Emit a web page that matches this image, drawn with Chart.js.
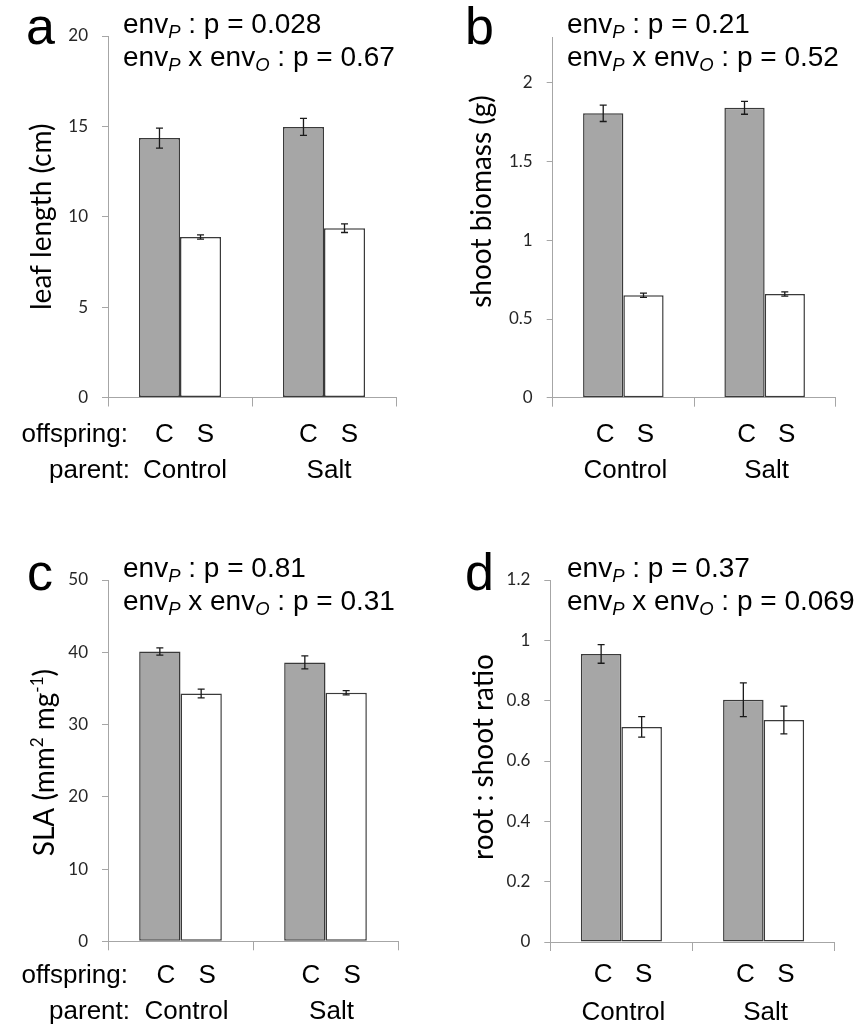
<!DOCTYPE html>
<html>
<head>
<meta charset="utf-8">
<script src="https://cdn.jsdelivr.net/npm/chart.js@4.4.1/dist/chart.umd.min.js"></script>
<style>
  html, body { margin: 0; padding: 0; background: #ffffff; }
  body { width: 865px; height: 1025px; position: relative; overflow: hidden; }
  canvas { position: absolute; }
  .ann { position: absolute; font-family: "Liberation Sans", Arial, sans-serif; font-size: 28px; line-height: 33px; color: #000; white-space: nowrap; }
  .ann sub { font-size: 0.66em; font-style: italic; vertical-align: -0.28em; line-height: 0; }
  .letter { position: absolute; font-family: "Liberation Sans", Arial, sans-serif; font-size: 52px; line-height: 52px; color: #000; }
</style>
</head>
<body>
<canvas id="pa" width="432" height="512" style="left:0;top:0"></canvas>
<canvas id="pb" width="433" height="512" style="left:432px;top:0"></canvas>
<canvas id="pc" width="432" height="513" style="left:0;top:512px"></canvas>
<canvas id="pd" width="433" height="513" style="left:432px;top:512px"></canvas>

<div class="letter" style="left:26px;top:0px">a</div>
<div class="letter" style="left:465px;top:0px">b</div>
<div class="letter" style="left:27px;top:546px">c</div>
<div class="letter" style="left:465px;top:546px">d</div>

<div class="ann" style="left:123px;top:7px">env<sub>P</sub> : p = 0.028<br>env<sub>P</sub> x env<sub>O</sub> : p = 0.67</div>
<div class="ann" style="left:567px;top:7px">env<sub>P</sub> : p = 0.21<br>env<sub>P</sub> x env<sub>O</sub> : p = 0.52</div>
<div class="ann" style="left:123px;top:551px">env<sub>P</sub> : p = 0.81<br>env<sub>P</sub> x env<sub>O</sub> : p = 0.31</div>
<div class="ann" style="left:567px;top:551px">env<sub>P</sub> : p = 0.37<br>env<sub>P</sub> x env<sub>O</sub> : p = 0.069</div>

<script>
// ---------------- data ----------------
const parentEnv = ['Control', 'Salt'];
const offspringEnv = ['C', 'S'];

const leafLengthC = [14.35, 14.97];
const leafLengthCErr = [0.55, 0.47];
const leafLengthS = [8.88, 9.37];
const leafLengthSErr = [0.12, 0.24];

const shootBiomassC = [1.807, 1.842];
const shootBiomassCErr = [0.052, 0.041];
const shootBiomassS = [0.651, 0.659];
const shootBiomassSErr = [0.014, 0.013];

const slaC = [40.1, 38.6];
const slaCErr = [0.5, 0.9];
const slaS = [34.3, 34.4];
const slaSErr = [0.6, 0.3];

const rootShootC = [0.955, 0.803];
const rootShootCErr = [0.031, 0.056];
const rootShootS = [0.713, 0.736];
const rootShootSErr = [0.034, 0.046];

// ---------------- plugins ----------------
const errorBarPlugin = {
  id: 'errbars',
  afterDatasetsDraw(chart) {
    const { ctx } = chart;
    const y = chart.scales.y;
    chart.data.datasets.forEach((ds, di) => {
      const meta = chart.getDatasetMeta(di);
      meta.data.forEach((bar, i) => {
        const v = ds.data[i], e = ds.errors[i];
        const t = y.getPixelForValue(v + e), b = y.getPixelForValue(v - e);
        const x = bar.x, w = 3.5;
        ctx.save();
        ctx.strokeStyle = '#1a1a1a';
        ctx.lineWidth = 1.3;
        ctx.beginPath();
        ctx.moveTo(x, t); ctx.lineTo(x, b);
        ctx.moveTo(x - w, t); ctx.lineTo(x + w, t);
        ctx.moveTo(x - w, b); ctx.lineTo(x + w, b);
        ctx.stroke();
        ctx.restore();
      });
    });
  }
};

const xLabelPlugin = {
  id: 'xlabels',
  afterDraw(chart, args, opts) {
    const { ctx, chartArea } = chart;
    const xs = chart.scales.x;
    ctx.save();
    ctx.font = '26px "Liberation Sans", Arial, sans-serif';
    ctx.fillStyle = '#000';
    ctx.textBaseline = 'alphabetic';
    ctx.textAlign = 'center';
    const row1 = chartArea.bottom + opts.row1;
    const row2 = chartArea.bottom + opts.row2;
    chart.data.datasets.forEach((ds, di) => {
      const meta = chart.getDatasetMeta(di);
      meta.data.forEach((bar) => {
        ctx.fillText(offspringEnv[di], bar.x + opts.dx, row1);
      });
    });
    chart.data.labels.forEach((lab, i) => {
      ctx.fillText(lab, xs.getPixelForValue(i) + opts.dx, row2);
    });
    if (opts.showNames) {
      ctx.textAlign = 'right';
      ctx.fillText('offspring:', opts.nameX, row1);
      ctx.fillText('parent:', opts.nameX + 2, row2);
    }
    ctx.restore();
  }
};

const yTitlePlugin = {
  id: 'ytitle',
  afterDraw(chart, args, opts) {
    const { ctx, chartArea } = chart;
    const cy = (chartArea.top + chartArea.bottom) / 2 + opts.dy;
    ctx.save();
    ctx.translate(opts.baseX, cy);
    ctx.rotate(-Math.PI / 2);
    ctx.font = opts.size + 'px Lato, sans-serif';
    ctx.fillStyle = '#000';
    ctx.textAlign = 'center';
    ctx.textBaseline = 'alphabetic';
    if (opts.sup) {
      // text with superscripts: draw piecewise, centred as a whole
      const parts = opts.sup;
      const small = Math.round(opts.size * 0.62);
      let total = 0;
      parts.forEach(p => {
        ctx.font = (p.s ? small : opts.size) + 'px Lato, sans-serif';
        p.w = ctx.measureText(p.t).width; total += p.w;
      });
      let x = -total / 2;
      ctx.textAlign = 'left';
      parts.forEach(p => {
        ctx.font = (p.s ? small : opts.size) + 'px Lato, sans-serif';
        ctx.fillText(p.t, x, p.s ? -opts.size * 0.38 : 0);
        x += p.w;
      });
    } else {
      ctx.fillText(opts.text, 0, 0);
    }
    ctx.restore();
  }
};

// ---------------- builder ----------------
function fmt(v) { return String(Number(v.toFixed(3))); }

function makePanel(id, o) {
  const axisGray = '#a6a6a6';
  new Chart(document.getElementById(id), {
    type: 'bar',
    data: {
      labels: parentEnv,
      datasets: [
        { label: 'C', data: o.c, errors: o.cErr, backgroundColor: '#a6a6a6', borderColor: '#3a3a3a', borderWidth: 1.5, borderSkipped: false, categoryPercentage: 0.57, barPercentage: 1.0 },
        { label: 'S', data: o.s, errors: o.sErr, backgroundColor: '#ffffff', borderColor: '#3a3a3a', borderWidth: 1.5, borderSkipped: false, categoryPercentage: 0.57, barPercentage: 1.0 }
      ]
    },
    options: {
      responsive: false,
      animation: false,
      devicePixelRatio: 1,
      layout: { padding: { top: o.padTop, right: o.padRight, left: 0, bottom: 0 } },
      plugins: {
        legend: { display: false },
        tooltip: { enabled: false },
        xlabels: o.xl,
        ytitle: o.yt
      },
      scales: {
        x: {
          grid: { display: true, offset: true, drawOnChartArea: false, drawTicks: true, tickLength: 9, color: axisGray, lineWidth: 1 },
          border: { display: true, color: axisGray, width: 1 },
          ticks: { display: false },
          afterFit: (s) => { s.height = o.xHeight; }
        },
        y: {
          min: 0, max: o.max,
          ticks: { stepSize: o.step, padding: 14, color: '#262626', font: { family: 'Lato', size: 17 }, callback: fmt },
          grid: { drawOnChartArea: false, drawTicks: true, tickLength: 6, color: axisGray, lineWidth: 1 },
          border: { display: true, color: axisGray, width: 1 },
          title: { display: false },
          afterBuildTicks: (s) => { s.ticks = s.ticks.filter(t => Math.abs(t.value / o.step - Math.round(t.value / o.step)) < 1e-6); },
          afterFit: (s) => { s.width = o.yWidth; }
        }
      }
    },
    plugins: [errorBarPlugin, xLabelPlugin, yTitlePlugin]
  });
}

makePanel('pa', {
  c: leafLengthC, cErr: leafLengthCErr, s: leafLengthS, sErr: leafLengthSErr,
  max: 20, step: 5,
  padTop: 36, padRight: 36, yWidth: 108, xHeight: 114.5,
  xl: { dx: 5, row1: 44, row2: 80.5, showNames: true, nameX: 128 },
  yt: { text: 'leaf length (cm)', size: 28, baseX: 51, dy: 0 }
});

makePanel('pb', {
  c: shootBiomassC, cErr: shootBiomassCErr, s: shootBiomassS, sErr: shootBiomassSErr,
  max: 2.29, step: 0.5,
  padTop: 37.3, padRight: 29.7, yWidth: 120.7, xHeight: 114.3,
  xl: { dx: 2, row1: 44, row2: 80.6, showNames: false },
  yt: { text: 'shoot biomass (g)', size: 28, baseX: 59, dy: -16 }
});

makePanel('pc', {
  c: slaC, cErr: slaCErr, s: slaS, sErr: slaSErr,
  max: 50, step: 10,
  padTop: 68, padRight: 34, yWidth: 108, xHeight: 83.7,
  xl: { dx: 6, row1: 42, row2: 78, showNames: true, nameX: 128 },
  yt: { text: 'SLA (mm² mg⁻¹)', size: 28, baseX: 54, dy: 2,
        sup: [{ t: 'SLA (mm' }, { t: '2', s: true }, { t: ' mg' }, { t: '-1', s: true }, { t: ')' }] }
});

makePanel('pd', {
  c: rootShootC, cErr: rootShootCErr, s: rootShootS, sErr: rootShootSErr,
  max: 1.2, step: 0.2,
  padTop: 68, padRight: 30.3, yWidth: 118.3, xHeight: 83,
  xl: { dx: 2, row1: 40, row2: 78, showNames: false },
  yt: { text: 'root : shoot ratio', size: 28, baseX: 61, dy: -4 }
});
</script>
</body>
</html>
